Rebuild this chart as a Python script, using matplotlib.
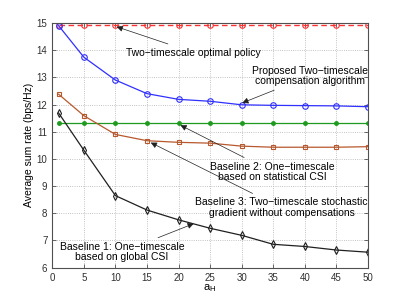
import matplotlib
matplotlib.use('Agg')
import matplotlib.pyplot as plt

x = [1, 5, 10, 15, 20, 25, 30, 35, 40, 45, 50]
optimal = [14.93] * 11
proposed = [14.9, 13.74, 12.9, 12.4, 12.19, 12.12, 11.99, 11.97, 11.96, 11.95, 11.92]
baseline2 = [11.31] * 11
baseline3 = [12.38, 11.59, 10.9, 10.67, 10.61, 10.58, 10.47, 10.43, 10.43, 10.43, 10.45]
baseline1 = [11.69, 10.32, 8.65, 8.12, 7.76, 7.45, 7.19, 6.86, 6.78, 6.65, 6.57]

plt.rcParams['font.family'] = ['Liberation Sans', 'DejaVu Sans']

fig = plt.figure(figsize=(4.07, 3.02), dpi=100)
ax = fig.add_axes([0.1285, 0.1136, 0.7755, 0.8104])

ax.plot(x, optimal, color='#ff3030', ls='--', lw=1.0, marker='o', ms=4, mfc='none', mew=0.8, dashes=(4, 2.5))
ax.plot(x, proposed, color='#3030ff', lw=0.9, marker='o', ms=4, mfc='none', mew=0.8)
ax.plot(x, baseline2, color='#1e9a1e', lw=0.9, marker='.', ms=5)
ax.plot(x, baseline3, color='#b8582e', lw=0.9, marker='s', ms=3.4, mfc='none', mew=0.8)
ax.plot(x, baseline1, color='#202020', lw=0.9, marker='d', ms=3.8, mfc='none', mew=0.8)

ax.set_xlim(0, 50)
ax.set_ylim(6, 15)
ax.set_xticks(range(0, 51, 5))
ax.set_yticks(range(6, 16))
ax.grid(True, ls=':', color='#b0b0b0', lw=0.6)
ax.tick_params(direction='in', labelsize=7, length=3, width=0.5, colors='#303030', top=True, right=True)
for s in ax.spines.values():
    s.set_color('#505050')
    s.set_linewidth(0.8)
ax.set_xlabel('a$_\\mathregular{H}$', fontsize=8, labelpad=0)
ax.set_ylabel('Average sum rate (bps/Hz)', fontsize=7.5, labelpad=2)

# arrows with filled heads, like the original annotations
ap = dict(arrowstyle='-|>', color='#202020', lw=0.5, mutation_scale=9, shrinkA=2, shrinkB=0)
fs = 7.5
ax.annotate('Two\u2212timescale optimal policy', xy=(10.2, 14.86), xytext=(22.4, 13.91),
            ha='center', va='center', fontsize=fs, arrowprops=ap)
ax.annotate('Proposed Two\u2212timescale\ncompensation algorithm', xy=(30.1, 12.06), xytext=(40.8, 13.05),
            ha='center', va='center', fontsize=fs, arrowprops=ap, linespacing=1.1)
ax.annotate('Baseline 2: One\u2212timescale\nbased on statistical CSI', xy=(20.3, 11.24), xytext=(34.9, 9.52),
            ha='center', va='center', fontsize=fs, arrowprops=ap, linespacing=1.1)
ax.annotate('Baseline 3: Two\u2212timescale stochastic\ngradient without compensations', xy=(15.6, 10.6), xytext=(36.3, 8.2),
            ha='center', va='center', fontsize=fs, arrowprops=ap, linespacing=1.1)
ax.annotate('Baseline 1: One\u2212timescale\nbased on global CSI', xy=(22.4, 7.62), xytext=(11.05, 6.58),
            ha='center', va='center', fontsize=fs, arrowprops=ap, linespacing=1.1)

plt.savefig('out.png', dpi=100)
plt.close()
